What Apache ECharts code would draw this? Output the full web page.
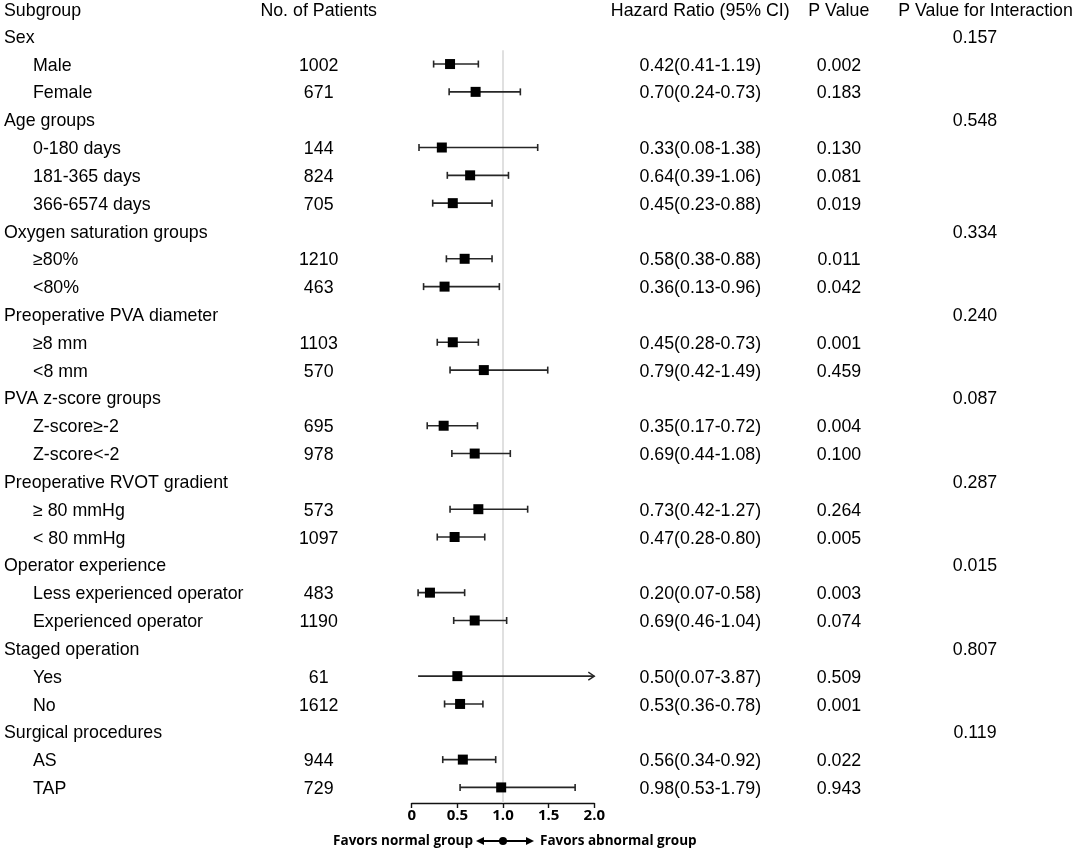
<!DOCTYPE html>
<html>
<head>
<meta charset="utf-8">
<script src="https://cdn.jsdelivr.net/npm/echarts@6/dist/echarts.min.js"></script>
<style>
html,body{margin:0;padding:0;background:#fff}
#chart{width:1084px;height:851px}
</style>
</head>
<body>
<div id="chart"></div>
<script>
// rows of the forest plot, top to bottom
var subgroups = ['Sex','Male','Female','Age groups','0-180 days','181-365 days','366-6574 days',
  'Oxygen saturation groups','\u226580%','<80%','Preoperative PVA diameter','\u22658 mm','<8 mm',
  'PVA z-score groups','Z-score\u2265-2','Z-score<-2','Preoperative RVOT gradient','\u2265 80 mmHg','< 80 mmHg',
  'Operator experience','Less experienced operator','Experienced operator','Staged operation','Yes','No',
  'Surgical procedures','AS','TAP'];
var isGroup = [1,0,0,1,0,0,0,1,0,0,1,0,0,1,0,0,1,0,0,1,0,0,1,0,0,1,0,0];
var patients = ['','1002','671','','144','824','705','','1210','463','','1103','570','','695','978',
  '','573','1097','','483','1190','','61','1612','','944','729'];
var hrText = ['','0.42(0.41-1.19)','0.70(0.24-0.73)','','0.33(0.08-1.38)','0.64(0.39-1.06)','0.45(0.23-0.88)',
  '','0.58(0.38-0.88)','0.36(0.13-0.96)','','0.45(0.28-0.73)','0.79(0.42-1.49)','','0.35(0.17-0.72)','0.69(0.44-1.08)',
  '','0.73(0.42-1.27)','0.47(0.28-0.80)','','0.20(0.07-0.58)','0.69(0.46-1.04)','','0.50(0.07-3.87)','0.53(0.36-0.78)',
  '','0.56(0.34-0.92)','0.98(0.53-1.79)'];
var pValues = ['','0.002','0.183','','0.130','0.081','0.019','','0.011','0.042','','0.001','0.459','','0.004','0.100',
  '','0.264','0.005','','0.003','0.074','','0.509','0.001','','0.022','0.943'];
var pInteraction = ['0.157','','','0.548','','','','0.334','','','0.240','','','0.087','','',
  '0.287','','','0.015','','','0.807','','','0.119','',''];
// plotted estimates (as drawn)
var hr     = [null,0.42,0.70,null,0.33,0.64,0.45,null,0.58,0.36,null,0.45,0.79,null,0.35,0.69,null,0.73,0.47,null,0.20,0.69,null,0.50,0.53,null,0.56,0.98];
var ciLow  = [null,0.24,0.41,null,0.08,0.39,0.23,null,0.38,0.13,null,0.28,0.42,null,0.17,0.44,null,0.42,0.28,null,0.07,0.46,null,0.07,0.36,null,0.34,0.53];
var ciHigh = [null,0.73,1.19,null,1.38,1.06,0.88,null,0.88,0.96,null,0.73,1.49,null,0.72,1.08,null,1.27,0.80,null,0.58,1.04,null,3.87,0.78,null,0.92,1.79];
var headers = ['Subgroup','No. of Patients','Hazard Ratio (95% CI)','P Value','P Value for Interaction'];
var xMin = 0, xMax = 2, xStep = 0.5;
var refValue = 1;

var chart = echarts.init(document.getElementById('chart'));

var FONT = '"Liberation Sans", Arial, sans-serif';
var FS = 17.8;
var ROW_TOP = -1, ROW_BOTTOM = 27.56;

var barData = [];
hr.forEach(function(v, i){
  if (v != null) barData.push([v, i, ciLow[i], ciHigh[i]]);
});
var textData = [[0, -1]];
subgroups.forEach(function(s, i){ textData.push([0, i]); });

function txt(str, x, y, align){
  return {type:'text', style:{text:str, x:x, y:y, align:align, verticalAlign:'middle',
    fill:'#000', fontSize:FS, fontFamily:FONT}};
}

var option = {
  animation:false,
  backgroundColor:'#fff',
  grid:[
    {left:411.7, right:1084-594.3, top:8.4, bottom:48},
    {left:0, right:0, top:8.4, bottom:48}
  ],
  xAxis:[
    {gridIndex:0, type:'value', min:xMin, max:xMax, interval:xStep,
     axisLine:{show:true, onZero:false, lineStyle:{color:'#111', width:1.4}},
     axisTick:{show:true, length:5, lineStyle:{color:'#111', width:1.4}},
     splitLine:{show:false},
     axisLabel:{margin:5, color:'#000', fontWeight:'bold', fontSize:15, fontFamily:'"Open Sans", sans-serif',
       formatter:function(v){ return v === 0 ? '0' : v.toFixed(1); }}},
    {gridIndex:1, type:'value', min:0, max:1084, show:false}
  ],
  yAxis:[
    {gridIndex:0, type:'value', inverse:true, min:ROW_TOP, max:ROW_BOTTOM, show:false},
    {gridIndex:1, type:'value', inverse:true, min:ROW_TOP, max:ROW_BOTTOM, show:false}
  ],
  series:[
    {
      type:'line', xAxisIndex:0, yAxisIndex:0, z:1,
      data:[[refValue, 0.5],[refValue, ROW_BOTTOM]],
      symbol:'none', lineStyle:{color:'#d9d9d9', width:1.6}, silent:true
    },
    {
      type:'custom', xAxisIndex:0, yAxisIndex:0, z:5, clip:false,
      data:barData,
      renderItem:function(params, api){
        var row = api.value(1), lo = api.value(2), hi = api.value(3);
        var c = api.coord([api.value(0), row]);
        var arrow = hi > xMax;
        var p1 = api.coord([lo, row]);
        var p2 = api.coord([Math.min(hi, xMax), row]);
        var ls = {stroke:'#262626', lineWidth:1.6};
        var ch = [{type:'line', shape:{x1:p1[0], y1:p1[1], x2:p2[0], y2:p2[1]}, style:ls}];
        if (!arrow){
          ch.push({type:'line', shape:{x1:p1[0], y1:p1[1]-3.5, x2:p1[0], y2:p1[1]+3.5}, style:ls});
          ch.push({type:'line', shape:{x1:p2[0], y1:p2[1]-3.5, x2:p2[0], y2:p2[1]+3.5}, style:ls});
        } else {
          ch.push({type:'polyline', shape:{points:[[p2[0]-6, p2[1]-4],[p2[0], p2[1]],[p2[0]-6, p2[1]+4]]},
            style:{stroke:'#262626', lineWidth:1.4, fill:null}});
        }
        ch.push({type:'rect', shape:{x:c[0]-5, y:c[1]-5, width:10, height:10}, style:{fill:'#000'}});
        return {type:'group', children:ch};
      }
    },
    {
      type:'custom', xAxisIndex:1, yAxisIndex:1, z:3, clip:false,
      data:textData,
      renderItem:function(params, api){
        var row = api.value(1);
        var y = api.coord([0, row + 0.06])[1];
        var X = function(px){ return api.coord([px, row])[0]; };
        if (row < 0){
          y = api.coord([0, row + 0.1])[1];
          return {type:'group', children:[
            txt(headers[0], X(4), y, 'left'),
            txt(headers[1], X(318.7), y, 'center'),
            txt(headers[2], X(700.3), y, 'center'),
            txt(headers[3], X(838.8), y, 'center'),
            txt(headers[4], X(985.5), y, 'center')
          ]};
        }
        var ch = [txt(subgroups[row], X(isGroup[row] ? 4 : 33), y, 'left')];
        if (patients[row]) ch.push(txt(patients[row], X(318.7), y, 'center'));
        if (hrText[row]) ch.push(txt(hrText[row], X(700.3), y, 'center'));
        if (pValues[row]) ch.push(txt(pValues[row], X(839), y, 'center'));
        if (pInteraction[row]) ch.push(txt(pInteraction[row], X(975), y, 'center'));
        return {type:'group', children:ch};
      }
    }
  ]
};
chart.setOption(option);

// direction note under the axis, centred on the reference value
var cx = chart.convertToPixel({gridIndex:0}, [refValue, 0])[0];
var ay = 841;
var noteFont = 'bold 13.5px "Open Sans", sans-serif';
chart.setOption({
  graphic:[
    {type:'text', x:cx-30, y:ay, style:{text:'Favors normal group', align:'right', verticalAlign:'middle', font:noteFont, fill:'#000'}},
    {type:'text', x:cx+37, y:ay, style:{text:'Favors abnormal group', align:'left', verticalAlign:'middle', font:noteFont, fill:'#000'}},
    {type:'line', shape:{x1:cx-24, y1:ay, x2:cx+28, y2:ay}, style:{stroke:'#000', lineWidth:2}},
    {type:'polygon', shape:{points:[[cx-27, ay],[cx-19, ay-4],[cx-19, ay+4]]}, style:{fill:'#000'}},
    {type:'polygon', shape:{points:[[cx+31, ay],[cx+23, ay-4],[cx+23, ay+4]]}, style:{fill:'#000'}},
    {type:'circle', shape:{cx:cx, cy:ay, r:4}, style:{fill:'#000'}}
  ]
});
</script>
</body>
</html>
